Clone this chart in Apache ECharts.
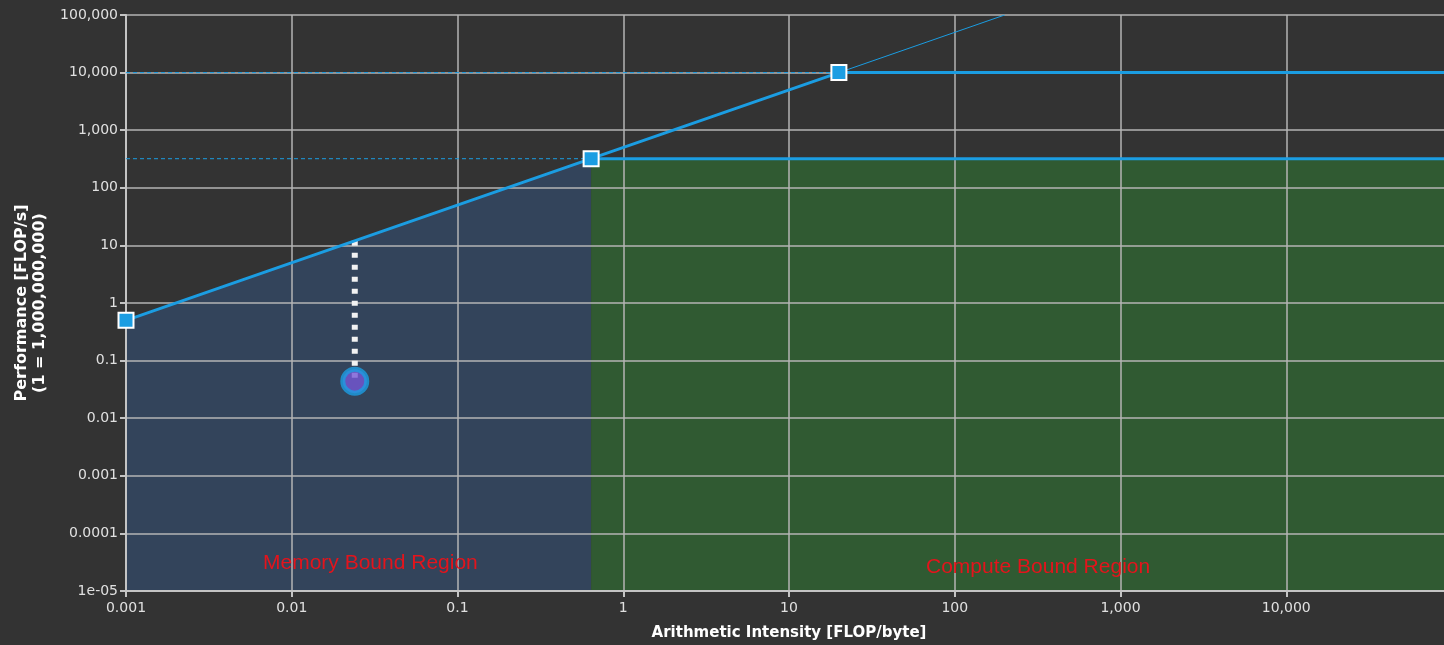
<!DOCTYPE html>
<html>
<head>
    <meta charset="utf-8">
    <title>Roofline</title>
    <script src="https://cdn.jsdelivr.net/npm/echarts@6/dist/echarts.min.js"></script>
    <style>
    html, body { margin: 0; padding: 0; background: #333333; }
    #main { width: 1444px; height: 645px; }
    </style>
</head>
<body>
    <div id="main"></div>
    <script>
    // tick labels, indexed by exponent
    const xTickLabels = ['0.001', '0.01', '0.1', '1', '10', '100', '1,000', '10,000', '100,000'];
    const yTickLabels = ['1e-05', '0.0001', '0.001', '0.01', '0.1', '1', '10', '100', '1,000', '10,000', '100,000'];

    // roofline: bandwidth slope through the ridge points
    const roofX = [0.001, 0.64, 20];
    const roofY = [0.5, 320, 10000];
    // slope continued past the top ridge
    const slopeExtX = [20, 200];
    const slopeExtY = [10000, 100000];
    // compute ceilings
    const peakLevels = [320, 10000];
    const ridgeX = [0.64, 20];
    // measured kernel
    const kernelX = 0.024;
    const kernelY = 0.044;
    const kernelRoofY = 12;

    const xMin = 0.001, xMax = 100000;
    const yMin = 0.00001, yMax = 100000;

    const blue = '#1b9de2';
    const chart = echarts.init(document.getElementById('main'));

    function expLabel(arr, base) {
        return function (v) {
            const e = Math.round(Math.log10(v));
            return arr[e - base] || '';
        };
    }

    function polygonSeries(points, color) {
        return {
            type: 'custom',
            z: 0,
            silent: true,
            data: [0],
            renderItem: function (params, api) {
                return {
                    type: 'polygon',
                    shape: { points: points.map(p => api.coord(p)) },
                    style: { fill: color }
                };
            }
        };
    }

    const memPoly = [[xMin, yMin], [roofX[0], roofY[0]], [roofX[1], roofY[1]], [roofX[1], yMin]];
    const compPoly = [[ridgeX[0], yMin], [ridgeX[0], peakLevels[0]], [xMax, peakLevels[0]], [xMax, yMin]];

    const series = [
        polygonSeries(memPoly, '#33445b'),
        polygonSeries(compPoly, '#305a32')
    ];

    // dashed guides from left edge to ridge points, solid ceilings to the right
    peakLevels.forEach(function (p, i) {
        series.push({
            type: 'line', z: 3, symbol: 'none', silent: true,
            data: [[xMin, p], [ridgeX[i], p]],
            lineStyle: { color: blue, width: 1, type: [4, 3] }
        });
        series.push({
            type: 'line', z: 4, symbol: 'none', silent: true,
            data: [[ridgeX[i], p], [xMax, p]],
            lineStyle: { color: blue, width: 3 }
        });
    });

    series.push({
        type: 'line', z: 3, symbol: 'none', silent: true,
        data: slopeExtX.map((x, i) => [x, slopeExtY[i]]),
        lineStyle: { color: blue, width: 1 }
    });

    // kernel to roof dotted line
    series.push({
        type: 'line', z: 5, symbol: 'none', silent: true,
        data: [[kernelX, kernelRoofY], [kernelX, kernelY]],
        lineStyle: { color: '#f2f2f2', width: 6, type: [5, 7] }
    });

    series.push({
        type: 'line', z: 6, silent: true,
        data: roofX.map((x, i) => [x, roofY[i]]),
        symbol: 'rect', symbolSize: 15,
        itemStyle: { color: blue, borderColor: '#ffffff', borderWidth: 2 },
        lineStyle: { color: blue, width: 3 }
    });

    series.push({
        type: 'scatter', z: 7, silent: true,
        data: [[kernelX, kernelY]],
        symbolSize: 24,
        itemStyle: { color: '#7657d6', borderColor: blue, borderWidth: 5 }
    });

    const axisLabelStyle = { color: '#e0e0e0', fontFamily: 'DejaVu Sans', fontSize: 14 };
    const nameStyle = { color: '#ffffff', fontWeight: 'bold', fontSize: 15, fontFamily: 'DejaVu Sans' };

    const option = {
        backgroundColor: '#333333',
        animation: false,
        grid: { left: 126, right: -8, top: 15, bottom: 54, outerBoundsMode: 'none' },
        xAxis: {
            type: 'log', min: xMin, max: xMax, logBase: 10, interval: 1, z: 1,
            name: 'Arithmetic Intensity [FLOP/byte]',
            nameLocation: 'middle', nameGap: 35,
            nameTextStyle: nameStyle,
            axisLine: { lineStyle: { color: '#c4c4c4', width: 2 } },
            axisTick: { show: true, length: 6, lineStyle: { color: '#c4c4c4', width: 2 } },
            axisLabel: Object.assign({ margin: 10, showMaxLabel: false, formatter: expLabel(xTickLabels, -3) }, axisLabelStyle),
            splitLine: { show: true, lineStyle: { color: '#b4b4b4', width: 1.5 } }
        },
        yAxis: {
            type: 'log', min: yMin, max: yMax, logBase: 10, interval: 1, z: 1,
            name: 'Performance [FLOP/s]\n(1 = 1,000,000,000)',
            nameLocation: 'middle', nameGap: 76, nameRotate: 90,
            nameTextStyle: Object.assign({}, nameStyle, { fontSize: 16, lineHeight: 18, align: 'center' }),
            axisLine: { show: true, lineStyle: { color: '#c4c4c4', width: 2 } },
            axisTick: { show: true, length: 6, lineStyle: { color: '#c4c4c4', width: 2 } },
            axisLabel: Object.assign({ margin: 8, formatter: expLabel(yTickLabels, -5) }, axisLabelStyle),
            splitLine: { show: true, lineStyle: { color: '#b4b4b4', width: 1.5 } }
        },
        graphic: [
            {
                type: 'text', left: 263, top: 553, z: 10,
                style: { text: 'Memory Bound Region', fill: '#e3141c', font: '21px "Liberation Sans"' }
            },
            {
                type: 'text', left: 926, top: 557, z: 10,
                style: { text: 'Compute Bound Region', fill: '#e3141c', font: '21px "Liberation Sans"' }
            }
        ],
        series: series
    };
    chart.setOption(option);
    </script>
</body>
</html>
